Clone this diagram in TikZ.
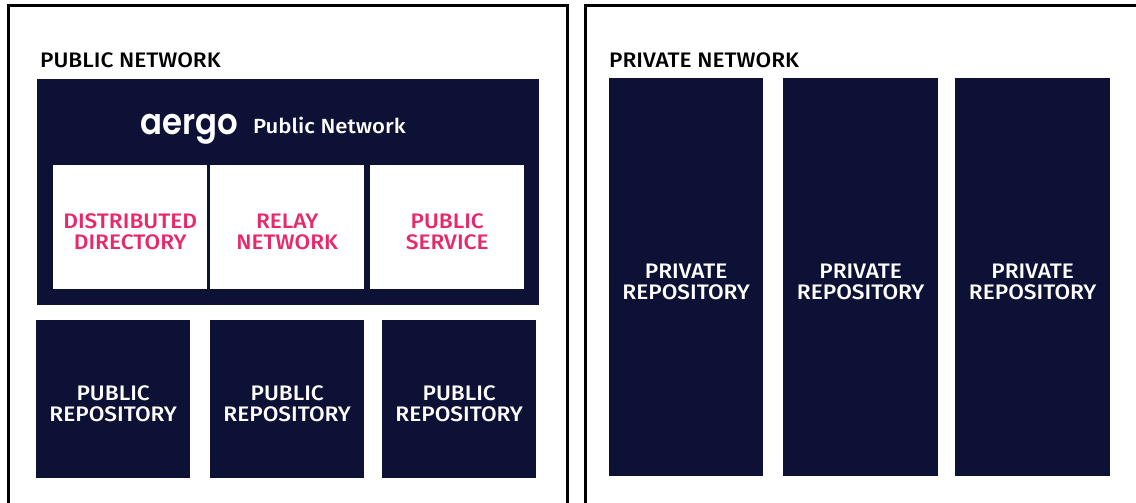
\documentclass[tikz,border=0pt]{standalone}
\usepackage{fontspec}
\setmainfont{Fira Sans Medium}[FakeStretch=1.08]
\newfontfamily\logofont{Poppins SemiBold}
\definecolor{navy}{HTML}{0E1136}
\definecolor{pink}{HTML}{E8286B}
\newcommand{\twolines}[2]{\raisebox{-13pt}[0pt][0pt]{\fontsize{21}{21}\selectfont\begin{tabular}{@{}c@{}}#1\\#2\end{tabular}}}
\tikzset{
  frame/.style={draw=black,line width=3pt},
  navybox/.style={fill=navy,draw=none,inner sep=0pt,text=white,anchor=north west},
  whitebox/.style={fill=white,draw=none,inner sep=0pt,text=pink,anchor=north west},
  heading/.style={inner sep=0pt,text=black,anchor=west,font=\fontsize{21}{24}\selectfont},
}
\begin{document}
\begin{tikzpicture}[x=1pt,y=-1pt]
\useasboundingbox (0,0) rectangle (1136,503);
\fill[white] (0,0) rectangle (1136,503);
\coordinate (fa) at (8,530); \coordinate (fb) at (8,5.5); \coordinate (fc) at (567.5,5.5); \coordinate (fd) at (567.5,530);
\coordinate (ga) at (585,530); \coordinate (gb) at (585,5.5); \coordinate (gc) at (1150,5.5);
\begin{scope}
\clip (0,0) rectangle (1136,503);
\draw[frame] (fa) -- (fb) -- (fc) -- (fd);
\draw[frame] (ga) -- (gb) -- (gc);
\end{scope}
\node[heading] (pubt) at (40,60) {PUBLIC NETWORK};
\node[heading] (privt) at (609,60) {PRIVATE NETWORK};
% public network panel
\node[navybox,minimum width=502pt,minimum height=226pt] (panel) at (37,79) {};
\node[inner sep=0pt,text=white,anchor=base,xscale=0.9,font=\logofont\fontsize{36}{36}\selectfont] (logo) at (189.5,135) {aergo};
\node[inner sep=0pt,text=white,anchor=west,font=\fontsize{20.5}{24}\selectfont] (pubn) at (253,125) {Public Network};
\node[whitebox,minimum width=154pt,minimum height=124pt] (dd) at (53,165) {\twolines{DISTRIBUTED}{DIRECTORY}};
\node[whitebox,minimum width=154pt,minimum height=124pt] (rn) at (210,165) {\twolines{RELAY}{NETWORK}};
\node[whitebox,minimum width=154pt,minimum height=124pt] (ps) at (370,165) {\twolines{PUBLIC}{SERVICE}};
% public repositories
\node[navybox,minimum width=154pt,minimum height=158pt] (r1) at (36,320) {\twolines{PUBLIC}{REPOSITORY}};
\node[navybox,minimum width=154pt,minimum height=158pt] (r2) at (210,320) {\twolines{PUBLIC}{REPOSITORY}};
\node[navybox,minimum width=154pt,minimum height=158pt] (r3) at (382,320) {\twolines{PUBLIC}{REPOSITORY}};
% private repositories
\node[navybox,minimum width=154pt,minimum height=398pt] (p1) at (609,78) {\twolines{PRIVATE}{REPOSITORY}};
\node[navybox,minimum width=155pt,minimum height=398pt] (p2) at (783,78) {\twolines{PRIVATE}{REPOSITORY}};
\node[navybox,minimum width=155pt,minimum height=398pt] (p3) at (955,78) {\twolines{PRIVATE}{REPOSITORY}};
\end{tikzpicture}
\end{document}
